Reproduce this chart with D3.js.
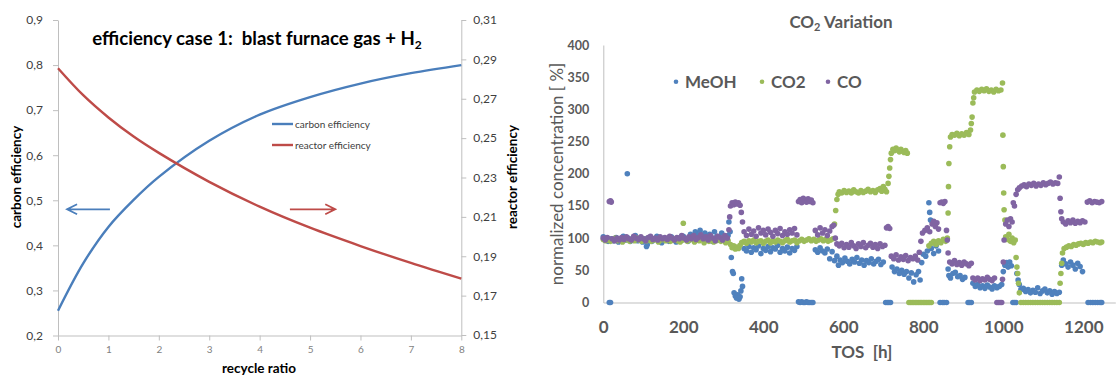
<!DOCTYPE html>
<html>
<head>
<meta charset="utf-8">
<script src="https://cdn.jsdelivr.net/npm/d3@7"></script>
<style>
  body { margin: 0; background: #fff; }
  svg { display: block; font-family: Lato, "Open Sans", sans-serif; }
</style>
</head>
<body>
<div id="chart"></div>
<script>
// left chart: efficiency over recycle ratio
const recycleRatio = [0, 0.5, 1, 1.5, 2, 3, 4, 5, 6, 7, 8];
const carbonEff = [0.255, 0.36, 0.441, 0.501, 0.552, 0.632, 0.69, 0.729, 0.759, 0.782, 0.80];
const reactorEff = [0.2855, 0.2718, 0.2605, 0.2508, 0.2425, 0.2278, 0.2152, 0.2045, 0.1952, 0.1866, 0.1786];
const ratioTicks = [0, 1, 2, 3, 4, 5, 6, 7, 8];
const carbonTicks = [0.2, 0.3, 0.4, 0.5, 0.6, 0.7, 0.8, 0.9];
const reactorTicks = [0.15, 0.17, 0.19, 0.21, 0.23, 0.25, 0.27, 0.29, 0.31];

// right chart: normalized concentration over time on stream, [TOS h, %]
const tosTicks = [0, 200, 400, 600, 800, 1000, 1200];
const concTicks = [0, 50, 100, 150, 200, 250, 300, 350, 400];

const meoh = [[0,102],[4,97],[8,100],[12,95],[15,0],[18,0],[20,99],[26,96],[32,101],[38,94],[44,98],[50,103],[56,97],[60,200],[62,100],[68,95],[74,99],[80,104],[86,96],[92,100],[98,94],[104,99],[108,87],[110,90],[116,101],[122,95],[128,98],[134,103],[140,96],[146,93],[152,100],[158,97],[164,95],[170,102],[176,98],[182,94],[188,100],[194,96],[200,103],[206,99],[212,95],[218,106],[224,101],[230,110],[236,105],[242,112],[248,104],[254,108],[260,98],[266,106],[272,95],[278,110],[284,103],[290,97],[296,108],[302,101],[308,96],[312,104],[314,125],[317,110],[320,70],[323,48],[325,45],[327,15],[330,10],[333,7],[336,12],[339,5],[342,9],[344,18],[346,37],[348,25],[352,84],[358,80],[364,87],[370,78],[376,85],[382,82],[388,88],[394,76],[400,84],[406,81],[412,87],[418,79],[424,85],[430,83],[436,89],[442,78],[448,84],[454,80],[460,86],[466,77],[472,84],[478,81],[484,87],[488,1],[492,0],[496,1],[500,0],[504,0],[508,1],[512,0],[516,0],[520,0],[524,0],[530,82],[536,78],[542,85],[548,80],[554,77],[560,83],[566,68],[572,79],[578,65],[584,72],[588,58],[592,66],[598,62],[604,69],[610,64],[616,60],[622,67],[628,63],[634,70],[640,61],[646,66],[652,58],[658,65],[664,62],[670,68],[676,60],[682,64],[688,67],[694,59],[700,63],[706,0],[710,0],[714,0],[718,0],[722,55],[728,48],[734,52],[740,45],[746,50],[752,44],[758,48],[764,38],[770,46],[776,32],[782,43],[788,48],[792,35],[796,62],[800,75],[806,72],[810,80],[814,155],[816,140],[818,128],[820,84],[826,76],[832,88],[838,80],[842,0],[848,0],[852,0],[858,0],[862,52],[864,42],[868,38],[874,45],[880,47],[886,40],[892,42],[898,36],[904,39],[912,0],[916,0],[920,0],[924,30],[930,25],[936,28],[942,23],[948,26],[954,22],[960,27],[966,24],[972,21],[978,26],[984,23],[990,25],[996,28],[1000,48],[1004,58],[1008,62],[1012,55],[1016,63],[1020,57],[1024,0],[1028,0],[1032,0],[1034,45],[1037,35],[1040,28],[1044,20],[1050,22],[1056,17],[1062,20],[1068,15],[1074,19],[1080,16],[1086,23],[1092,14],[1098,18],[1104,21],[1110,15],[1116,18],[1122,13],[1128,17],[1134,14],[1140,16],[1146,58],[1150,66],[1156,60],[1162,55],[1168,63],[1174,58],[1180,52],[1186,61],[1192,56],[1198,48],[1212,0],[1218,0],[1224,0],[1230,0],[1236,0],[1242,0],[1246,0]];

const co2 = [[0,98],[6,96],[12,99],[18,95],[24,97],[30,100],[36,96],[42,98],[48,94],[54,97],[60,99],[66,95],[72,98],[78,96],[84,100],[90,97],[96,95],[102,98],[108,96],[114,99],[120,95],[126,97],[132,98],[138,94],[144,97],[150,99],[156,96],[162,98],[168,95],[174,97],[180,99],[186,96],[192,94],[198,97],[200,123],[204,98],[210,95],[216,97],[222,99],[228,94],[234,97],[240,96],[246,98],[252,93],[258,97],[264,95],[270,98],[276,94],[282,96],[288,99],[294,95],[300,97],[306,93],[312,96],[318,90],[322,85],[326,88],[330,83],[334,86],[338,84],[342,89],[346,93],[352,95],[358,92],[364,96],[370,94],[376,97],[382,93],[388,95],[394,96],[400,92],[406,95],[412,97],[418,93],[424,96],[430,94],[436,97],[442,95],[448,93],[454,96],[460,98],[466,94],[472,96],[478,97],[484,93],[490,96],[496,98],[502,95],[508,97],[514,99],[520,96],[526,98],[532,95],[538,97],[544,99],[550,96],[556,98],[562,95],[568,97],[574,99],[578,122],[581,143],[584,160],[587,168],[590,172],[596,170],[602,174],[608,171],[614,173],[620,170],[626,175],[632,172],[638,170],[644,174],[650,171],[656,173],[662,176],[668,172],[674,174],[680,171],[686,175],[692,177],[696,173],[700,180],[704,176],[708,172],[712,185],[714,196],[716,209],[718,222],[720,232],[724,238],[728,236],[732,240],[736,237],[740,234],[744,238],[748,235],[752,233],[756,236],[760,232],[764,0],[768,0],[772,0],[776,0],[780,0],[784,0],[788,0],[792,0],[796,0],[800,0],[804,0],[808,0],[812,0],[816,0],[820,0],[814,88],[820,92],[826,95],[832,90],[838,96],[844,93],[850,98],[856,95],[860,100],[862,139],[863,180],[864,216],[866,242],[868,257],[872,261],[878,260],[884,263],[890,259],[896,262],[902,260],[908,264],[914,261],[918,268],[920,278],[922,288],[924,310],[926,318],[928,327],[934,330],[940,328],[946,331],[952,329],[958,332],[964,328],[970,330],[976,327],[982,331],[988,329],[994,330],[998,341],[999,260],[1000,211],[1001,170],[1002,144],[1004,128],[1006,102],[1010,98],[1014,106],[1018,95],[1022,100],[1026,93],[1030,97],[1032,70],[1034,55],[1036,45],[1038,30],[1040,15],[1044,0],[1050,0],[1056,0],[1062,0],[1068,0],[1074,0],[1080,0],[1086,0],[1092,0],[1098,0],[1104,0],[1110,0],[1116,0],[1122,0],[1128,0],[1134,0],[1140,0],[1142,30],[1144,45],[1146,61],[1148,77],[1152,84],[1158,86],[1164,88],[1170,87],[1176,90],[1182,89],[1188,91],[1194,92],[1200,90],[1206,93],[1212,92],[1218,94],[1224,93],[1230,95],[1236,94],[1242,93],[1246,94]];

const co = [[0,100],[5,97],[10,101],[15,157],[18,158],[20,156],[22,99],[28,96],[34,100],[40,97],[46,101],[52,98],[58,102],[64,99],[70,97],[76,103],[82,100],[88,98],[94,102],[100,99],[106,96],[112,101],[118,103],[124,98],[130,100],[136,97],[142,102],[148,99],[154,101],[160,98],[166,103],[172,100],[178,97],[184,101],[190,99],[196,104],[202,100],[208,97],[214,102],[220,99],[226,104],[232,98],[238,101],[244,105],[250,99],[256,102],[262,97],[268,104],[274,100],[280,96],[286,103],[292,101],[298,97],[304,104],[310,100],[314,113],[316,133],[318,150],[322,155],[326,152],[330,156],[334,153],[338,155],[342,151],[345,140],[348,125],[352,110],[358,104],[364,114],[370,106],[376,111],[382,103],[388,116],[394,108],[400,112],[406,105],[412,114],[418,109],[424,103],[430,112],[436,107],[442,115],[448,104],[454,110],[460,106],[466,113],[472,108],[478,115],[484,105],[488,157],[492,160],[496,155],[500,162],[504,158],[508,156],[512,161],[516,157],[520,159],[524,155],[530,112],[536,105],[542,116],[548,108],[554,113],[560,104],[566,111],[572,118],[576,120],[580,100],[584,91],[590,88],[596,92],[602,85],[608,90],[614,86],[620,93],[626,88],[632,84],[638,91],[644,87],[650,93],[656,85],[662,89],[668,92],[674,86],[680,90],[686,84],[692,91],[698,87],[704,89],[708,116],[712,118],[716,115],[720,72],[726,68],[732,74],[738,66],[744,71],[750,67],[756,73],[762,65],[768,70],[774,68],[780,72],[786,66],[790,78],[794,95],[798,108],[804,112],[810,116],[816,110],[822,122],[826,126],[830,118],[834,124],[838,114],[842,155],[846,156],[850,154],[854,157],[858,112],[860,97],[862,77],[866,63],[872,60],[878,65],[884,59],[890,62],[896,58],[902,63],[908,60],[914,57],[920,61],[924,38],[930,35],[936,38],[942,34],[948,37],[954,35],[960,39],[966,36],[972,34],[978,38],[984,0],[988,0],[992,0],[996,0],[998,36],[1000,63],[1002,97],[1006,122],[1010,128],[1014,118],[1018,130],[1022,125],[1025,155],[1028,150],[1032,168],[1036,175],[1040,178],[1046,181],[1052,183],[1058,180],[1064,184],[1070,182],[1076,185],[1082,181],[1088,184],[1094,182],[1100,186],[1106,183],[1112,185],[1118,187],[1124,184],[1130,186],[1136,185],[1140,195],[1142,162],[1144,141],[1146,130],[1150,125],[1156,122],[1162,127],[1168,124],[1174,128],[1180,123],[1186,126],[1192,124],[1198,127],[1204,125],[1210,156],[1216,158],[1222,155],[1228,157],[1234,156],[1240,155],[1246,157]];

const seriesNames = ['MeOH', 'CO2', 'CO'];
const seriesColors = ['#4f81bd', '#9bbb59', '#8064a2'];

const font = 'Lato, "Open Sans", sans-serif';
const axisGrey = '#bfbfbf';

const svg = d3.select('#chart')
    .append('svg')
    .attr('width', 1118)
    .attr('height', 378);

svg.append('rect').attr('width', 1118).attr('height', 378).attr('fill', '#fff');

function styleAxis(g, color, size, weight) {
    g.attr('font-family', font);
    g.select('.domain').attr('stroke', axisGrey);
    g.selectAll('.tick line').attr('stroke', axisGrey);
    g.selectAll('.tick text')
        .attr('fill', color)
        .attr('font-size', size)
        .attr('font-weight', weight);
}

// ---------- left chart ----------
const xL = d3.scaleLinear().domain([0, 8]).range([58, 461.3]);
const yL = d3.scaleLinear().domain([0.2, 0.9]).range([335.5, 20]);
const yR = d3.scaleLinear().domain([0.15, 0.31]).range([335, 20]);
const comma = f => d => d3.format(f)(d).replace('.', ',');

svg.append('g')
    .attr('transform', `translate(0, ${yL(0.2)})`)
    .call(d3.axisBottom(xL).tickValues(ratioTicks).tickSize(5).tickSizeOuter(0).tickPadding(5))
    .call(g => styleAxis(g, '#7f7f7f', 10, 'normal'));

svg.append('g')
    .attr('transform', `translate(${xL(0)}, 0)`)
    .call(d3.axisLeft(yL).tickValues(carbonTicks).tickFormat(comma('.1f')).tickSize(5).tickSizeOuter(0).tickPadding(10))
    .call(g => styleAxis(g, '#404040', 12, 'normal'));

svg.append('g')
    .attr('transform', `translate(${xL(8)}, 0)`)
    .call(d3.axisRight(yR).tickValues(reactorTicks).tickFormat(comma('.2f')).tickSize(5).tickSizeOuter(0).tickPadding(7))
    .call(g => styleAxis(g, '#404040', 12, 'normal'));

const lineCarbon = d3.line()
    .x((d, i) => xL(recycleRatio[i]))
    .y(d => yL(d))
    .curve(d3.curveCatmullRom.alpha(0.5));

const lineReactor = d3.line()
    .x((d, i) => xL(recycleRatio[i]))
    .y(d => yR(d))
    .curve(d3.curveCatmullRom.alpha(0.5));

svg.append('path')
    .attr('d', lineCarbon(carbonEff))
    .attr('fill', 'none')
    .attr('stroke', '#4a7ebb')
    .attr('stroke-width', 2.4);

svg.append('path')
    .attr('d', lineReactor(reactorEff))
    .attr('fill', 'none')
    .attr('stroke', '#be4b48')
    .attr('stroke-width', 2.4);

// direction arrows
function arrow(x1, x2, y, color) {
    const dir = x2 > x1 ? -1 : 1;
    svg.append('path')
        .attr('d', `M${x1},${y}H${x2}M${x2 + dir * 10},${y - 5}L${x2},${y}L${x2 + dir * 10},${y + 5}`)
        .attr('fill', 'none')
        .attr('stroke', color)
        .attr('stroke-width', 1.8);
}
arrow(xL(1.03), xL(0.18), yL(0.48), '#4a7ebb');
arrow(xL(4.6), xL(5.5), yL(0.48), '#be4b48');

// title
const titleL = svg.append('text')
    .attr('x', 257)
    .attr('y', 45)
    .attr('text-anchor', 'middle')
    .attr('font-family', font)
    .attr('font-size', 18.6)
    .attr('font-weight', 'bold')
    .attr('fill', '#000')
    .attr('xml:space', 'preserve');
titleL.append('tspan').text('efficiency case 1:  blast furnace gas + H');
titleL.append('tspan').attr('font-size', 12).attr('dy', 4).text('2');

// legend
const legL = [['carbon efficiency', '#4a7ebb', 124], ['reactor efficiency', '#be4b48', 145]];
legL.forEach(([label, color, y]) => {
    svg.append('line').attr('x1', 272).attr('x2', 293).attr('y1', y).attr('y2', y)
        .attr('stroke', color).attr('stroke-width', 2.4);
    svg.append('text').attr('x', 295).attr('y', y + 3.5)
        .attr('font-family', font).attr('font-size', 10).attr('fill', '#404040')
        .text(label);
});

// axis titles
svg.append('text')
    .attr('transform', 'translate(21, 177) rotate(-90)')
    .attr('text-anchor', 'middle')
    .attr('font-family', font).attr('font-size', 13.5).attr('font-weight', 'bold')
    .text('carbon efficiency');

svg.append('text')
    .attr('transform', 'translate(517, 177) rotate(-90)')
    .attr('text-anchor', 'middle')
    .attr('font-family', font).attr('font-size', 13.5).attr('font-weight', 'bold')
    .text('reactor efficiency');

svg.append('text')
    .attr('x', 259).attr('y', 373)
    .attr('text-anchor', 'middle')
    .attr('font-family', font).attr('font-size', 13.5).attr('font-weight', 'bold')
    .text('recycle ratio');

// ---------- right chart ----------
const xS = d3.scaleLinear().domain([0, 1280]).range([603.3, 1115.3]);
const yS = d3.scaleLinear().domain([0, 400]).range([302.5, 45]);

svg.append('g')
    .attr('transform', `translate(0, ${yS(0)})`)
    .call(d3.axisBottom(xS).tickValues(tosTicks).tickFormat(d3.format('d')).tickSize(0).tickSizeOuter(0).tickPadding(18))
    .call(g => styleAxis(g, '#595959', 17, 'bold'));

svg.append('g')
    .attr('transform', `translate(${xS(0)}, 0)`)
    .call(d3.axisLeft(yS).tickValues(concTicks).tickSize(0).tickSizeOuter(0).tickPadding(14))
    .call(g => styleAxis(g, '#595959', 12.5, 'bold'));

[meoh, co2, co].forEach((series, i) => {
    svg.append('g')
        .selectAll('circle')
        .data(series)
        .join('circle')
        .attr('cx', d => xS(d[0]))
        .attr('cy', d => yS(d[1]))
        .attr('r', 2.8)
        .attr('fill', seriesColors[i]);
});

const titleR = svg.append('text')
    .attr('x', 841).attr('y', 28)
    .attr('text-anchor', 'middle')
    .attr('font-family', font).attr('font-size', 17).attr('font-weight', 'bold')
    .attr('fill', '#595959');
titleR.append('tspan').text('CO');
titleR.append('tspan').attr('font-size', 11).attr('dy', 3).text('2');
titleR.append('tspan').attr('dy', -3).text(' Variation');

// legend
const legendX = [676, 762, 828];
seriesNames.forEach((name, i) => {
    svg.append('circle').attr('cx', legendX[i]).attr('cy', 81.7).attr('r', 2.3).attr('fill', seriesColors[i]);
    svg.append('text').attr('x', legendX[i] + 9).attr('y', 88)
        .attr('font-family', font).attr('font-size', 17).attr('font-weight', 'bold')
        .attr('fill', '#595959')
        .text(name);
});

svg.append('text')
    .attr('transform', 'translate(563, 174) rotate(-90)')
    .attr('text-anchor', 'middle')
    .attr('font-family', font).attr('font-size', 17)
    .attr('fill', '#595959')
    .text('normalized concentration [ %]');

svg.append('text')
    .attr('x', 862).attr('y', 358)
    .attr('text-anchor', 'middle')
    .attr('font-family', font).attr('font-size', 17).attr('font-weight', 'bold')
    .attr('fill', '#595959')
    .attr('xml:space', 'preserve')
    .text('TOS  [h]');
</script>
</body>
</html>
